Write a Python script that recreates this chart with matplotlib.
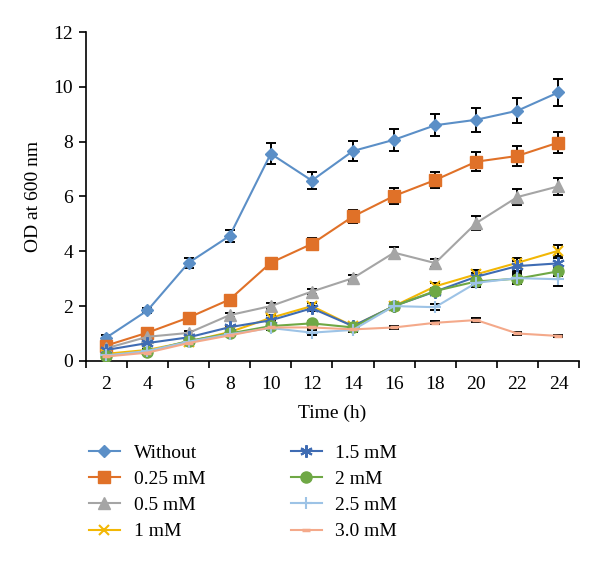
import matplotlib
matplotlib.use("Agg")
import matplotlib.pyplot as plt
import numpy as np

plt.rcParams['font.family'] = ['Liberation Serif', 'DejaVu Serif']

times = [2, 4, 6, 8, 10, 12, 14, 16, 18, 20, 22, 24]
labels = ["Without", "0.25 mM", "0.5 mM", "1 mM", "1.5 mM", "2 mM", "2.5 mM", "3.0 mM"]

without = [0.85, 1.84, 3.58, 4.56, 7.56, 6.58, 7.66, 8.07, 8.6, 8.8, 9.13, 9.8]
mM025 = [0.56, 1.03, 1.58, 2.24, 3.58, 4.27, 5.27, 6.02, 6.6, 7.27, 7.48, 7.97]
mM05 = [0.46, 0.88, 1.02, 1.67, 2.0, 2.53, 3.02, 3.95, 3.57, 5.03, 5.98, 6.37]
mM1 = [0.26, 0.4, 0.7, 1.05, 1.57, 2.0, 1.27, 2.0, 2.72, 3.16, 3.58, 4.02]
mM15 = [0.4, 0.65, 0.86, 1.23, 1.48, 1.92, 1.27, 2.0, 2.53, 3.07, 3.46, 3.56]
mM2 = [0.18, 0.34, 0.73, 1.0, 1.27, 1.37, 1.22, 2.0, 2.55, 2.9, 3.0, 3.27]
mM25 = [0.2, 0.36, 0.7, 0.97, 1.2, 1.03, 1.13, 2.0, 1.96, 2.85, 3.02, 2.98]
mM3 = [0.16, 0.3, 0.65, 0.93, 1.22, 1.22, 1.15, 1.22, 1.39, 1.49, 1.0, 0.91]

err_without = [0.08, 0.1, 0.18, 0.22, 0.38, 0.32, 0.38, 0.41, 0.41, 0.44, 0.45, 0.48]
err_025 = [0.08, 0.08, 0.08, 0.1, 0.15, 0.2, 0.22, 0.28, 0.3, 0.35, 0.38, 0.4]
err_05 = [0.05, 0.06, 0.06, 0.08, 0.1, 0.1, 0.12, 0.2, 0.15, 0.25, 0.28, 0.3]
err_1 = [0.03, 0.05, 0.05, 0.06, 0.1, 0.1, 0.08, 0.1, 0.13, 0.15, 0.18, 0.2]
err_15 = [0.03, 0.05, 0.05, 0.06, 0.08, 0.1, 0.08, 0.1, 0.12, 0.15, 0.17, 0.18]
err_2 = [0.03, 0.04, 0.05, 0.05, 0.08, 0.08, 0.07, 0.1, 0.12, 0.13, 0.15, 0.17]
err_25 = [0.03, 0.04, 0.05, 0.05, 0.08, 0.08, 0.07, 0.1, 0.1, 0.15, 0.2, 0.25]
err_3 = [0.02, 0.03, 0.03, 0.04, 0.05, 0.05, 0.05, 0.05, 0.05, 0.06, 0.05, 0.05]

series = [without, mM025, mM05, mM1, mM15, mM2, mM25, mM3]
errors = [err_without, err_025, err_05, err_1, err_15, err_2, err_25, err_3]
colors = ['#5B8FC7', '#E07128', '#A5A5A5', '#F2B705', '#3F6CB3', '#6FA845', '#9DC3E6', '#F4A98A']
markers = ['D', 's', '^', 'x', (6, 2, 0), 'o', '+', '_']
msizes = [6, 8, 8, 7, 9, 8, 9, 6]

fig = plt.figure(figsize=(6.0, 5.63), dpi=100)
ax = fig.add_axes([0.143, 0.359, 0.822, 0.584])

x = np.arange(len(times))
handles = []
for i, (vals, errs) in enumerate(zip(series, errors)):
    ax.errorbar(x, vals, yerr=errs, fmt='none', ecolor='black', elinewidth=1.4,
                capsize=3.5, capthick=1.4, zorder=2)
for i, vals in enumerate(series):
    mew = 2.5 if markers[i] == '_' else (1.5 if markers[i] in ['x', '+', (6, 2, 0)] else 1)
    h, = ax.plot(x, vals, color=colors[i], marker=markers[i], markersize=msizes[i],
                 markeredgewidth=mew, linewidth=1.5, label=labels[i], zorder=3)
    handles.append(h)

ax.set_xlim(-0.5, len(times) - 0.5)
ax.set_ylim(0, 12)
ax.set_yticks([0, 2, 4, 6, 8, 10, 12])
ax.set_xticks(x)
ax.set_xticklabels([str(t) for t in times])
ax.set_xticks(np.arange(-0.5, len(times), 1.0), minor=True)
ax.tick_params(axis='x', which='major', length=0, labelsize=14, pad=11)
ax.tick_params(axis='x', which='minor', length=5, width=1.2, direction='out')
ax.tick_params(axis='y', which='major', length=5, width=1.2, direction='out', labelsize=14, pad=4)
for s in ['top', 'right']:
    ax.spines[s].set_visible(False)
for s in ['left', 'bottom']:
    ax.spines[s].set_linewidth(1.2)

ax.set_xlabel('Time (h)', fontsize=14, labelpad=8)
ax.set_ylabel('OD at 600 nm', fontsize=14, labelpad=8)

fig.legend(handles, labels,
           loc='upper left', bbox_to_anchor=(0.148, 0.211), ncol=2, frameon=False,
           fontsize=14, columnspacing=4.4, handlelength=1.6, labelspacing=0.44,
           handletextpad=0.7, borderpad=0, borderaxespad=0)

fig.savefig('out.png', dpi=100)
